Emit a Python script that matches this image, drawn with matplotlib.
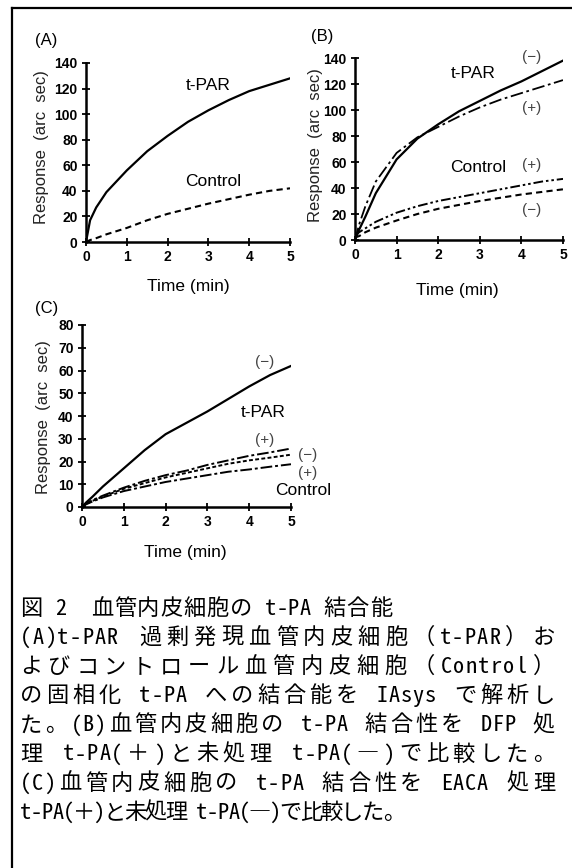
import unicodedata
import matplotlib
matplotlib.use("Agg")
import matplotlib.pyplot as plt
from matplotlib.lines import Line2D

W, H = 572, 868

# time points (min)
time = [0, 0.1, 0.25, 0.5, 1, 1.5, 2, 2.5, 3, 3.5, 4, 4.5, 5]

# (A) t-PAR overexpressing vs control cells
a_tpar = [0, 17, 27, 39, 56, 71, 83, 94, 103, 111, 118, 123, 128]
a_control = [0, 1.5, 3, 6, 11, 17, 22, 26, 30, 33.5, 37, 40, 42]

# (B) DFP treated (+) / untreated (-)
b_tpar_minus = [0, 8, 18, 36, 62, 78, 89, 99, 107, 115, 122, 130, 138]
b_tpar_plus = [0, 12, 26, 45, 67, 79, 87, 95, 102, 108, 113, 118, 123]
b_control_plus = [3, 6, 9, 14, 21, 26, 30, 33, 36, 39, 42, 45, 47]
b_control_minus = [2, 3, 6, 9.5, 15, 20, 24, 27, 30, 32.5, 35, 37, 39]

# (C) EACA treated (+) / untreated (-)
c_tpar_minus = [0, 2, 4.5, 9, 17, 25, 32, 37, 42, 47.5, 53, 58, 62]
c_upper_plus = [0, 1.5, 3, 5, 8.5, 11.5, 14, 16, 18.5, 20.5, 22.5, 24, 25.7]
c_minus = [0, 1.3, 2.7, 4.6, 8, 10.5, 13, 15, 17, 19, 20.5, 21.7, 23]
c_lower_plus = [0, 1.2, 2.4, 4.2, 7, 9, 11, 12.5, 14, 15.5, 16.5, 17.7, 18.8]

x_ticks = [0, 1, 2, 3, 4, 5]

caption = [
    "図 2　血管内皮細胞の t-PA 結合能",
    "(A)t-PAR 過剰発現血管内皮細胞（t-PAR）お",
    "よびコントロール血管内皮細胞（Control）",
    "の固相化 t-PA への結合能を IAsys で解析し",
    "た。(B)血管内皮細胞の t-PA 結合性を DFP 処",
    "理 t-PA(＋)と未処理 t-PA(―)で比較した。",
    "(C)血管内皮細胞の t-PA 結合性を EACA 処理",
    "t-PA(＋)と未処理 t-PA(―)で比較した。",
]
# right end of each caption line (paragraph lines are justified)
caption_right = [392, 555, 555, 555, 555, 555, 555, 405]

SANS = ["Liberation Sans", "DejaVu Sans"]
CJK = ["Noto Sans Mono CJK JP", "Noto Sans CJK JP", "DejaVu Sans"]

fig = plt.figure(figsize=(W / 100, H / 100), dpi=100)


def px_axes(x0, y0, x1, y1):
    return fig.add_axes([x0 / W, 1 - y1 / H, (x1 - x0) / W, (y1 - y0) / H])


def px_text(x, y, s, **kw):
    return fig.text(x / W, 1 - y / H, s, **kw)


def style_axes(ax, ymax, ystep):
    ax.set_xlim(0, 5)
    ax.set_ylim(0, ymax)
    ax.set_xticks(x_ticks)
    ax.set_yticks(range(0, ymax + 1, ystep))
    for side in ("top", "right"):
        ax.spines[side].set_visible(False)
    for side in ("left", "bottom"):
        ax.spines[side].set_linewidth(1.8)
    ax.tick_params(direction="inout", length=6, width=1.3, pad=3,
                   labelsize=10)
    for lab in ax.get_xticklabels() + ax.get_yticklabels():
        lab.set_family(SANS)
        lab.set_fontweight("bold")
    ax.patch.set_alpha(0)


def ylabel(x, y):
    px_text(x, y, "Response  (arc  sec)", family=SANS, fontsize=12,
            rotation=90, ha="center", va="center", color="#222222")


def is_wide(ch):
    return unicodedata.east_asian_width(ch) in ("F", "W", "A")


def justified_line(y, text, x0, x1, size):
    # fixed-pitch layout: full-width glyphs take 1 em, the rest half an em;
    # gaps inside latin words get only a small share of the extra room
    em = size / 72 * 100
    widths = [em if is_wide(c) else em / 2 for c in text]
    stretch = []
    for a, b in zip(text, text[1:]):
        tight = not (is_wide(a) or is_wide(b) or a == " " or b == " ")
        stretch.append(0.25 if tight else 1.0)
    gap = (x1 - x0 - sum(widths)) / sum(stretch)
    x = x0
    for i, (ch, w) in enumerate(zip(text, widths)):
        if ch.strip():
            px_text(x + w / 2, y, ch, family=CJK, fontsize=size,
                    ha="center", va="center")
        if i < len(stretch):
            x += w + gap * stretch[i]


# frame around the figure block
fig.add_artist(Line2D([12 / W, 12 / W], [0, 1 - 8 / H], color="black", lw=1.6))
fig.add_artist(Line2D([12 / W, 1], [1 - 8 / H, 1 - 8 / H], color="black", lw=1.6))

# ---- panel A
axA = px_axes(86, 63, 290, 242)
axA.plot(time, a_tpar, color="black", lw=1.6)
axA.plot(time, a_control, color="black", lw=1.5, ls=(0, (3, 2)))
style_axes(axA, 140, 20)
px_text(35, 40, "(A)", family=SANS, fontsize=12, va="center")
ylabel(42, 147)
px_text(188, 286, "Time (min)", family=SANS, fontsize=12.5, ha="center",
        va="center")
px_text(208, 86, "t-PAR", family=SANS, fontsize=12.5, ha="center", va="center")
px_text(213, 182, "Control", family=SANS, fontsize=12.5, ha="center",
        va="center")

# ---- panel B
axB = px_axes(355, 58, 563, 240)
axB.plot(time, b_tpar_minus, color="black", lw=1.6)
axB.plot(time, b_tpar_plus, color="black", lw=1.3, ls=(0, (7, 2, 1.5, 2)))
axB.plot(time, b_control_plus, color="black", lw=1.4,
         ls=(0, (5, 1.5, 1.3, 1.5, 1.3, 1.5)))
axB.plot(time, b_control_minus, color="black", lw=1.5, ls=(0, (3, 2)))
style_axes(axB, 140, 20)
px_text(322, 37, "(B)", family=SANS, fontsize=12, ha="center", va="center")
ylabel(316, 145)
px_text(457, 290, "Time (min)", family=SANS, fontsize=12.5, ha="center",
        va="center")
px_text(473, 73, "t-PAR", family=SANS, fontsize=12.5, ha="center", va="center")
px_text(478, 168, "Control", family=SANS, fontsize=12.5, ha="center",
        va="center")
for y, s in [(57, "(−)"), (108, "(+)"), (165, "(+)"), (210, "(−)")]:
    px_text(532, y, s, family=SANS, fontsize=11, ha="center", va="center",
            color="#444444")

# ---- panel C
axC = px_axes(82, 325, 291, 507)
axC.plot(time, c_tpar_minus, color="black", lw=1.6)
axC.plot(time, c_upper_plus, color="black", lw=1.4, ls=(0, (6, 1.5, 1.5, 1.5)))
axC.plot(time, c_minus, color="black", lw=1.4, ls=(0, (2, 1.2)))
axC.plot(time, c_lower_plus, color="black", lw=1.4, ls=(0, (6, 1.5, 1.5, 1.5)))
style_axes(axC, 80, 10)
px_text(35, 308, "(C)", family=SANS, fontsize=12, va="center")
ylabel(44, 417)
px_text(185, 553, "Time (min)", family=SANS, fontsize=12.5, ha="center",
        va="center")
px_text(263, 412, "t-PAR", family=SANS, fontsize=12.5, ha="center", va="center")
px_text(303, 490, "Control", family=SANS, fontsize=12.5, ha="center",
        va="center")
for x, y, s in [(265, 362, "(−)"), (265, 440, "(+)"), (308, 455, "(−)"),
                (308, 473, "(+)")]:
    px_text(x, y, s, family=SANS, fontsize=11, ha="center", va="center",
            color="#444444")

# ---- caption
for i, (line, right) in enumerate(zip(caption, caption_right)):
    justified_line(609 + i * 29.1, line, 20, right, 16)

fig.savefig("out.png", dpi=100)
